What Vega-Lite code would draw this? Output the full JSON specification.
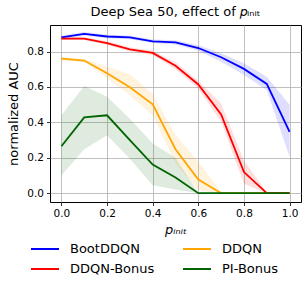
{
  "$schema": "https://vega.github.io/schema/vega-lite/v6.json",
  "width": 251,
  "height": 177,
  "autosize": "none",
  "padding": {"left": 50, "top": 25, "right": 7, "bottom": 88},
  "title": {"text": "Deep Sea 50, effect of 𝑝ᵢₙᵢₜ", "fontSize": 13, "fontWeight": "normal", "font": "DejaVu Sans", "color": "black", "offset": 6},
  "config": {
    "view": {"stroke": "black", "strokeWidth": 1},
    "font": "DejaVu Sans",
    "axis": {
      "domain": false,
      "gridColor": "#b0b0b0",
      "gridWidth": 0.8,
      "gridOpacity": 1,
      "tickColor": "black",
      "tickSize": 3.5,
      "tickWidth": 0.8,
      "labelColor": "black",
      "labelFontSize": 10.5,
      "labelPadding": 3,
      "titleColor": "black",
      "titleFontSize": 13,
      "titleFontWeight": "normal"
    },
    "legend": {
      "labelFontSize": 13,
      "labelColor": "black",
      "symbolType": "stroke",
      "symbolSize": 784,
      "symbolStrokeWidth": 2,
      "symbolOpacity": 1,
      "labelOffset": 10,
      "clipHeight": 16,
      "rowPadding": 4,
      "columnPadding": 27,
      "padding": 0
    }
  },
  "data": {"values": [
    {"s": "BootDDQN", "x": 0.0, "m": 0.880, "lo": 0.870, "hi": 0.890},
    {"s": "BootDDQN", "x": 0.1, "m": 0.900, "lo": 0.890, "hi": 0.910},
    {"s": "BootDDQN", "x": 0.2, "m": 0.885, "lo": 0.875, "hi": 0.895},
    {"s": "BootDDQN", "x": 0.3, "m": 0.880, "lo": 0.870, "hi": 0.890},
    {"s": "BootDDQN", "x": 0.4, "m": 0.858, "lo": 0.848, "hi": 0.868},
    {"s": "BootDDQN", "x": 0.5, "m": 0.852, "lo": 0.840, "hi": 0.864},
    {"s": "BootDDQN", "x": 0.6, "m": 0.820, "lo": 0.805, "hi": 0.835},
    {"s": "BootDDQN", "x": 0.7, "m": 0.768, "lo": 0.743, "hi": 0.790},
    {"s": "BootDDQN", "x": 0.8, "m": 0.702, "lo": 0.668, "hi": 0.734},
    {"s": "BootDDQN", "x": 0.9, "m": 0.617, "lo": 0.583, "hi": 0.658},
    {"s": "BootDDQN", "x": 1.0, "m": 0.346, "lo": 0.204, "hi": 0.500},
    {"s": "DDQN", "x": 0.0, "m": 0.760, "lo": 0.750, "hi": 0.770},
    {"s": "DDQN", "x": 0.1, "m": 0.749, "lo": 0.740, "hi": 0.758},
    {"s": "DDQN", "x": 0.2, "m": 0.677, "lo": 0.649, "hi": 0.715},
    {"s": "DDQN", "x": 0.3, "m": 0.598, "lo": 0.554, "hi": 0.672},
    {"s": "DDQN", "x": 0.4, "m": 0.502, "lo": 0.440, "hi": 0.560},
    {"s": "DDQN", "x": 0.5, "m": 0.248, "lo": 0.170, "hi": 0.330},
    {"s": "DDQN", "x": 0.6, "m": 0.077, "lo": 0.015, "hi": 0.176},
    {"s": "DDQN", "x": 0.7, "m": 0.0, "lo": 0.0, "hi": 0.010},
    {"s": "DDQN", "x": 0.8, "m": 0.0, "lo": 0.0, "hi": 0.0},
    {"s": "DDQN", "x": 0.9, "m": 0.0, "lo": 0.0, "hi": 0.0},
    {"s": "DDQN", "x": 1.0, "m": 0.0, "lo": 0.0, "hi": 0.0},
    {"s": "DDQN-Bonus", "x": 0.0, "m": 0.873, "lo": 0.865, "hi": 0.881},
    {"s": "DDQN-Bonus", "x": 0.1, "m": 0.873, "lo": 0.865, "hi": 0.881},
    {"s": "DDQN-Bonus", "x": 0.2, "m": 0.848, "lo": 0.838, "hi": 0.858},
    {"s": "DDQN-Bonus", "x": 0.3, "m": 0.812, "lo": 0.800, "hi": 0.824},
    {"s": "DDQN-Bonus", "x": 0.4, "m": 0.792, "lo": 0.780, "hi": 0.804},
    {"s": "DDQN-Bonus", "x": 0.5, "m": 0.720, "lo": 0.700, "hi": 0.740},
    {"s": "DDQN-Bonus", "x": 0.6, "m": 0.614, "lo": 0.590, "hi": 0.635},
    {"s": "DDQN-Bonus", "x": 0.7, "m": 0.445, "lo": 0.403, "hi": 0.507},
    {"s": "DDQN-Bonus", "x": 0.8, "m": 0.119, "lo": 0.053, "hi": 0.185},
    {"s": "DDQN-Bonus", "x": 0.9, "m": 0.0, "lo": 0.0, "hi": 0.005},
    {"s": "DDQN-Bonus", "x": 1.0, "m": 0.0, "lo": 0.0, "hi": 0.0},
    {"s": "PI-Bonus", "x": 0.0, "m": 0.265, "lo": 0.100, "hi": 0.440},
    {"s": "PI-Bonus", "x": 0.1, "m": 0.428, "lo": 0.248, "hi": 0.605},
    {"s": "PI-Bonus", "x": 0.2, "m": 0.440, "lo": 0.327, "hi": 0.545},
    {"s": "PI-Bonus", "x": 0.3, "m": 0.300, "lo": 0.195, "hi": 0.420},
    {"s": "PI-Bonus", "x": 0.4, "m": 0.161, "lo": 0.044, "hi": 0.280},
    {"s": "PI-Bonus", "x": 0.5, "m": 0.089, "lo": 0.020, "hi": 0.200},
    {"s": "PI-Bonus", "x": 0.6, "m": 0.0, "lo": 0.0, "hi": 0.0},
    {"s": "PI-Bonus", "x": 0.7, "m": 0.0, "lo": 0.0, "hi": 0.0},
    {"s": "PI-Bonus", "x": 0.8, "m": 0.0, "lo": 0.0, "hi": 0.0},
    {"s": "PI-Bonus", "x": 0.9, "m": 0.0, "lo": 0.0, "hi": 0.0},
    {"s": "PI-Bonus", "x": 1.0, "m": 0.0, "lo": 0.0, "hi": 0.0}
  ]},
  "encoding": {
    "x": {
      "field": "x", "type": "quantitative",
      "scale": {"domain": [-0.05, 1.05], "nice": false, "zero": false},
      "axis": {"values": [0, 0.2, 0.4, 0.6, 0.8, 1.0], "format": ".1f", "title": "pᵢₙᵢₜ", "titleFontStyle": "italic", "titlePadding": 4}
    },
    "color": {"field": "s", "type": "nominal",
      "scale": {"domain": ["BootDDQN", "DDQN", "DDQN-Bonus", "PI-Bonus"], "range": ["#0000ff", "#ffa500", "#ff0000", "#006400"]},
      "legend": {"title": null, "orient": "none", "legendX": -20, "legendY": 216, "columns": 2, "direction": "horizontal"}}
  },
  "layer": [
    {
      "mark": {"type": "area", "opacity": 0.13},
      "encoding": {
        "y": {"field": "lo", "type": "quantitative", "scale": {"domain": [-0.05, 0.95], "nice": false, "zero": false},
          "axis": {"values": [0, 0.2, 0.4, 0.6, 0.8], "format": ".1f", "title": "normalized AUC", "titlePadding": 6}},
        "y2": {"field": "hi"}
      }
    },
    {
      "mark": {"type": "line", "strokeWidth": 1.8},
      "encoding": {
        "y": {"field": "m", "type": "quantitative"}
      }
    }
  ]
}
